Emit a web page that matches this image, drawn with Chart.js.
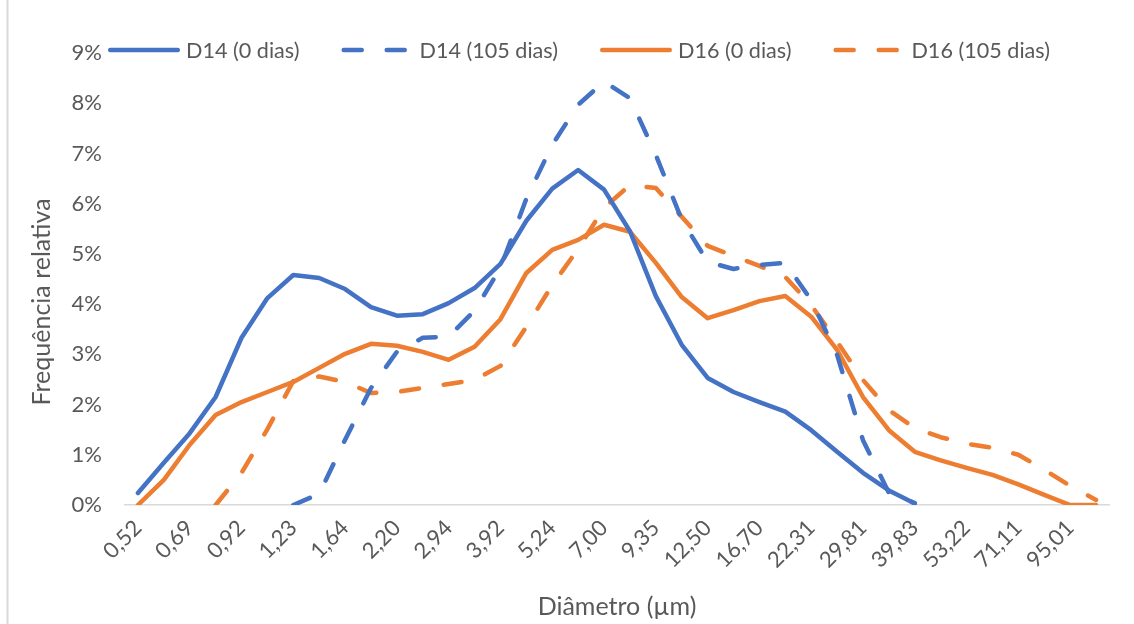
<!DOCTYPE html>
<html>
<head>
<meta charset="utf-8">
<script src="https://cdn.jsdelivr.net/npm/chart.js@4.4.1/dist/chart.umd.min.js"></script>
<style>
  html, body { margin: 0; padding: 0; background: #ffffff; }
  #wrap { position: relative; width: 1134px; height: 624px; }
</style>
</head>
<body>
<div id="wrap"><canvas id="c" width="1134" height="624"></canvas></div>
<script>
// Particle size classes (µm) — every other class is labelled on the axis
const diameters = [
  "0,52", "0,60", "0,69", "0,80", "0,92", "1,07", "1,23", "1,42", "1,64", "1,90",
  "2,20", "2,54", "2,94", "3,40", "3,92", "4,53", "5,24", "6,06", "7,00", "8,09",
  "9,35", "10,81", "12,50", "14,45", "16,70", "19,31", "22,31", "25,79", "29,81", "34,46",
  "39,83", "46,03", "53,22", "61,52", "71,11", "82,20", "95,01", "109,84"
];

// Relative frequency (%) per size class
const d14Day0 = [
  0.24, 0.84, 1.43, 2.15, 3.33, 4.12, 4.58, 4.52, 4.30, 3.94,
  3.77, 3.80, 4.02, 4.32, 4.80, 5.66, 6.30, 6.67, 6.28, 5.45,
  4.16, 3.19, 2.53, 2.25, 2.05, 1.86, 1.49, 1.06, 0.64, 0.29,
  0.03, null, null, null, null, null, null, null
];
const d14Day105 = [
  null, null, null, null, null, null, 0.00, 0.22, 1.30, 2.33,
  3.05, 3.33, 3.35, 3.87, 4.72, 6.10, 7.17, 7.97, 8.43, 8.10,
  6.97, 5.68, 4.84, 4.70, 4.78, 4.82, 4.08, 2.99, 1.29, 0.24,
  0.04, null, null, null, null, null, null, null
];
const d16Day0 = [
  0.00, 0.50, 1.20, 1.79, 2.05, 2.25, 2.45, 2.73, 3.01, 3.21,
  3.17, 3.05, 2.89, 3.15, 3.70, 4.62, 5.08, 5.28, 5.58, 5.44,
  4.82, 4.14, 3.72, 3.88, 4.06, 4.16, 3.75, 3.09, 2.15, 1.49,
  1.06, 0.89, 0.74, 0.60, 0.41, 0.20, 0.00, 0.00
];
const d16Day105 = [
  null, null, null, 0.00, 0.64, 1.51, 2.47, 2.56, 2.45, 2.23,
  2.25, 2.33, 2.41, 2.49, 2.77, 3.55, 4.38, 5.10, 5.92, 6.37,
  6.31, 5.74, 5.16, 4.96, 4.76, 4.54, 3.98, 3.25, 2.49, 1.89,
  1.53, 1.35, 1.22, 1.14, 1.00, 0.70, 0.38, 0.10
];

const seriesNames = ["D14 (0 dias)", "D14 (105 dias)", "D16 (0 dias)", "D16 (105 dias)"];
const yTickValues = [0, 1, 2, 3, 4, 5, 6, 7, 8, 9];
const xTitle = "Diâmetro (µm)";
const yTitle = "Frequência relativa";

const FONT = 'Lato, "Open Sans", sans-serif';
const FONT_SIZE = 22;
const LEGEND_SIZE = 21.6;
const TITLE_SIZE = 25;
const TEXT = '#595959';
const BLUE = '#4472C4';
const ORANGE = '#ED7D31';
const LINE_W = 4.5;
const DASH = [18, 25];

// White page with the thin grey frame edge on the left
const framePlugin = {
  id: 'frame',
  beforeDraw(chart) {
    const { ctx, width, height } = chart;
    ctx.save();
    ctx.fillStyle = '#ffffff';
    ctx.fillRect(0, 0, width, height);
    ctx.fillStyle = '#d9d9d9';
    ctx.fillRect(6.5, 0, 2, height);
    ctx.restore();
  }
};

// Horizontal legend row drawn across the top of the plot
const legendRowPlugin = {
  id: 'legendRow',
  afterDraw(chart) {
    const ctx = chart.ctx;
    ctx.save();
    ctx.font = `${LEGEND_SIZE}px ${FONT}`;
    ctx.textBaseline = 'middle';
    ctx.textAlign = 'left';
    let x = 108;
    const y = 50;
    chart.data.datasets.forEach(ds => {
      ctx.strokeStyle = ds.borderColor;
      ctx.lineWidth = ds.borderWidth;
      ctx.lineCap = 'round';
      ctx.setLineDash(ds.borderDash || []);
      ctx.beginPath();
      ctx.moveTo(x + LINE_W / 2, y);
      ctx.lineTo(x + 72 - LINE_W / 2, y);
      ctx.stroke();
      ctx.setLineDash([]);
      ctx.fillStyle = TEXT;
      ctx.fillText(ds.label, x + 78, y + 1);
      x += 78 + ctx.measureText(ds.label).width + 42;
    });
    ctx.restore();
  }
};

// Rotated title for the value axis
const yTitlePlugin = {
  id: 'yTitle',
  afterDraw(chart) {
    const ctx = chart.ctx;
    ctx.save();
    ctx.translate(42, 302);
    ctx.rotate(-Math.PI / 2);
    ctx.font = `${TITLE_SIZE}px ${FONT}`;
    ctx.fillStyle = TEXT;
    ctx.textAlign = 'center';
    ctx.textBaseline = 'middle';
    ctx.fillText(yTitle, 0, 0);
    ctx.restore();
  }
};

function lineSet(label, data, color, dashed) {
  return {
    label,
    data,
    borderColor: color,
    backgroundColor: color,
    borderWidth: LINE_W,
    borderDash: dashed ? DASH : [],
    borderCapStyle: 'round',
    borderJoinStyle: 'round',
    pointRadius: 0,
    pointHoverRadius: 0,
    tension: 0,
    fill: false,
    spanGaps: false
  };
}

new Chart(document.getElementById('c'), {
  type: 'line',
  data: {
    labels: diameters,
    datasets: [
      lineSet(seriesNames[0], d14Day0, BLUE, false),
      lineSet(seriesNames[1], d14Day105, BLUE, true),
      lineSet(seriesNames[2], d16Day0, ORANGE, false),
      lineSet(seriesNames[3], d16Day105, ORANGE, true)
    ]
  },
  options: {
    responsive: false,
    animation: false,
    devicePixelRatio: 1,
    layout: { padding: { top: 53, right: 25, bottom: 0, left: 0 } },
    plugins: {
      legend: { display: false },
      title: { display: false },
      tooltip: { enabled: false }
    },
    scales: {
      x: {
        type: 'category',
        offset: true,
        grid: { display: false, drawTicks: false },
        border: { display: true, color: '#d9d9d9', width: 1.5 },
        ticks: {
          autoSkip: false,
          maxRotation: 45,
          minRotation: 45,
          padding: 10,
          color: TEXT,
          font: { family: FONT, size: FONT_SIZE },
          callback(value, index) {
            return index % 2 === 0 ? this.getLabelForValue(value) : '';
          }
        },
        title: {
          display: true,
          text: xTitle,
          color: TEXT,
          font: { family: FONT, size: TITLE_SIZE },
          padding: { top: 0, bottom: 2 }
        },
        afterFit(scale) { scale.height = 119; }
      },
      y: {
        min: 0,
        max: 9,
        afterBuildTicks(scale) { scale.ticks = yTickValues.map(v => ({ value: v })); },
        grid: { display: false, drawTicks: false },
        border: { display: false },
        ticks: {
          padding: 23,
          color: TEXT,
          font: { family: FONT, size: FONT_SIZE },
          callback(value) { return value + '%'; }
        },
        afterFit(scale) { scale.width = 125; }
      }
    }
  },
  plugins: [framePlugin, legendRowPlugin, yTitlePlugin]
});
</script>
</body>
</html>
